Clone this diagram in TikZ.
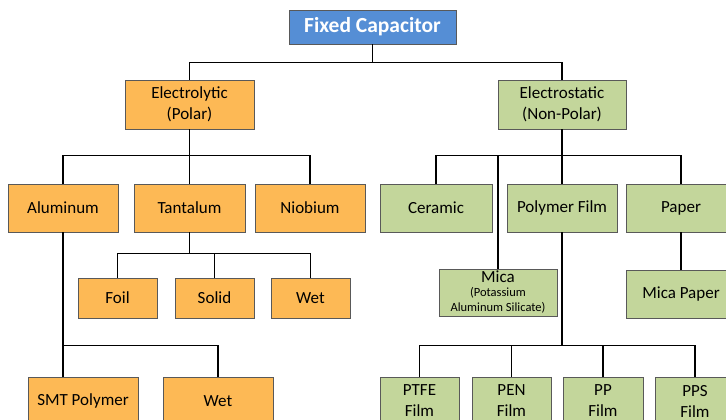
\documentclass[tikz,border=0pt]{standalone}
\usepackage{fontspec}
\setmainfont{Carlito}
\usetikzlibrary{positioning}
\definecolor{rootfill}{HTML}{558ED5}
\definecolor{polarfill}{HTML}{FDB955}
\definecolor{nonpolarfill}{HTML}{C3D69B}
\definecolor{edge}{HTML}{595959}
\newcommand{\micanote}{\fontsize{12.5}{14}\selectfont}
\tikzset{
  box/.style={draw=edge,line width=0.8pt,align=center,inner sep=1pt,font=\fontsize{17}{21}\selectfont},
  rootbox/.style={box,fill=rootfill,text=white,font=\fontsize{21.5}{24}\selectfont\bfseries},
  polar/.style={box,fill=polarfill},
  nonpolar/.style={box,fill=nonpolarfill},
  link/.style={line width=1.6pt,black},
}
\begin{document}
\begin{tikzpicture}[x=1pt,y=-1pt]
        \clip (0,0) rectangle (726,420);
        \fill[white] (0,0) rectangle (726,420);
        % top
        \node[rootbox,minimum width=167pt,minimum height=34pt] (root) at (372.5,27) {Fixed Capacitor};
        \node[polar,minimum width=129pt,minimum height=49pt] (elyt) at (189.5,104.5) {Electrolytic\\(Polar)};
        \node[nonpolar,minimum width=128pt,minimum height=49pt] (estat) at (562,104.5) {Electrostatic\\(Non-Polar)};
        % electrolytic side
        \node[polar,minimum width=110pt,minimum height=48pt] (alum) at (63,208) {Aluminum};
        \node[polar,minimum width=111pt,minimum height=48pt] (tant) at (189.5,208) {Tantalum};
        \node[polar,minimum width=110pt,minimum height=48pt] (niob) at (310,208) {Niobium};
        \node[polar,minimum width=79pt,minimum height=40pt] (foil) at (117.5,298) {Foil};
        \node[polar,minimum width=79pt,minimum height=40pt] (solid) at (214.5,298) {Solid};
        \node[polar,minimum width=79pt,minimum height=40pt] (tawet) at (310.5,298) {Wet};
        \node[polar,minimum width=110pt,minimum height=48pt] (smt) at (83,401) {SMT Polymer};
        \node[polar,minimum width=110pt,minimum height=48pt] (alwet) at (218,401) {Wet};
        % electrostatic side
        \node[nonpolar,minimum width=112pt,minimum height=48pt] (ceramic) at (436,208) {Ceramic};
        \node[nonpolar,minimum width=110pt,minimum height=48pt] (poly) at (562,208) {Polymer Film};
        \node[nonpolar,minimum width=110pt,minimum height=48pt] (paper) at (681,208) {Paper};
        \node[nonpolar,minimum width=118pt,minimum height=47pt,inner sep=0pt] (mica) at (498,292.5) {Mica\\[-7pt]\micanote(Potassium\\[-6pt]\micanote Aluminum Silicate)};
        \node[nonpolar,minimum width=110pt,minimum height=48pt] (micapaper) at (681,294) {Mica Paper};
        \node[nonpolar,minimum width=79pt,minimum height=48pt] (ptfe) at (419.5,401) {PTFE\\Film};
        \node[nonpolar,minimum width=79pt,minimum height=48pt] (pen) at (511.5,401) {PEN\\Film};
        \node[nonpolar,minimum width=80pt,minimum height=48pt] (pp) at (603,401) {PP\\Film};
        \node[nonpolar,minimum width=80pt,minimum height=48pt] (pps) at (695,401) {PPS\\Film};
        % links
        \foreach \kid in {elyt,estat}{
          \draw[link] (root.south) -- ++(0,18) -| (\kid.north);
        }
        \foreach \kid in {alum,tant,niob}{
          \draw[link] (elyt.south) -- ++(0,26) -| (\kid.north);
        }
        \foreach \kid in {ceramic,mica,poly,paper}{
          \draw[link] (estat.south) -- ++(0,26) -| (\kid.north);
        }
        \foreach \kid in {foil,solid,tawet}{
          \draw[link] (tant.south) -- ++(0,21) -| (\kid.north);
        }
        \foreach \kid in {ptfe,pen,pp,pps}{
          \draw[link] (poly.south) -- ++(0,113) -| (\kid.north);
        }
        \draw[link] (alum.south) -- (alum.south |- smt.north);
        \draw[link] (alum.south) -- ++(0,113) -| (alwet.north);
        \draw[link] (paper.south) -- (micapaper.north);
      \end{tikzpicture}
\end{document}
